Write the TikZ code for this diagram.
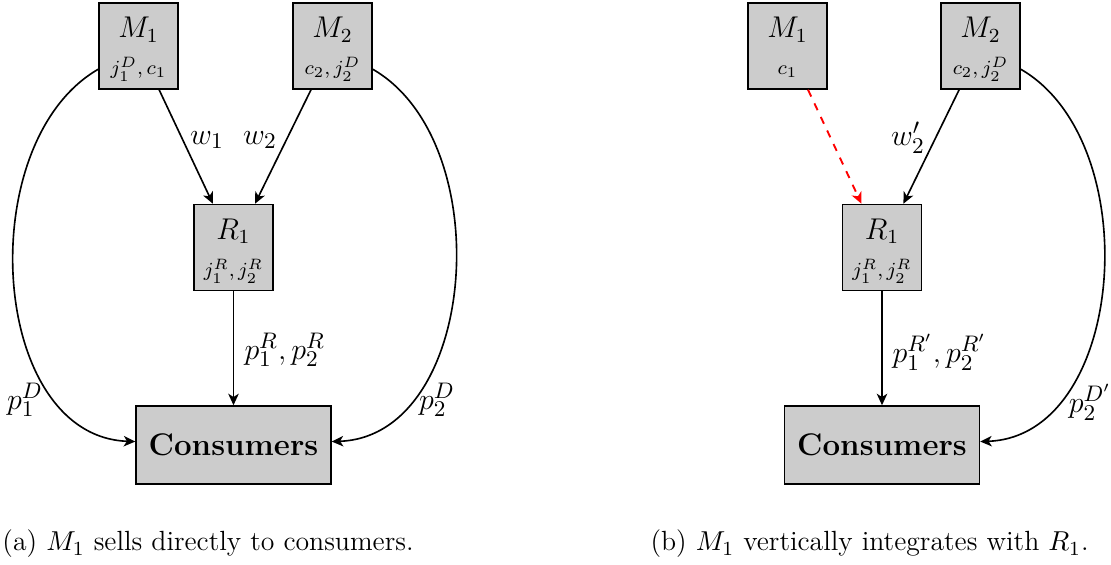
\documentclass[tikz,border=0pt]{standalone}
\usetikzlibrary{arrows.meta,calc}
\begin{document}
\begin{tikzpicture}[x=0.4pt,y=0.4pt,
  box/.style={draw=black,line width=0.6pt,fill=black!20,inner sep=0pt,minimum width=31.6pt,minimum height=34.4pt},
  cbox/.style={draw=black,line width=0.6pt,fill=black!20,inner sep=0pt,minimum width=78pt,minimum height=31.2pt,font=\fontsize{12.5}{15}\selectfont\bfseries},
  ttl/.style={anchor=base,inner sep=0pt,font=\fontsize{12}{15}\selectfont},
  sub/.style={anchor=base,inner sep=0pt,font=\footnotesize},
  lbl/.style={inner sep=0pt,font=\fontsize{12.5}{15}\selectfont},
  captxt/.style={anchor=west,inner sep=0pt,font=\fontsize{11.1}{13.5}\selectfont},
  arr/.style={line width=0.65pt,-{Stealth[length=4.6pt,width=4.2pt,inset=1.3pt]}},
  redarr/.style={line width=0.75pt,red,dashed,-{Stealth[length=4.6pt,width=4.2pt,inset=1.3pt]}}
]
\useasboundingbox (0,0) rectangle (1111,-565);

% ---------- (a) ----------
\node[box] (M1) at (138.5,-46) {};
\node[box] (M2) at (332.5,-46) {};
\node[box] (R1) at (233.5,-247.5) {};
\node[cbox] (C) at (233.5,-445) {Consumers};
\node[ttl] (M1t) at ($(M1)+(0,8)$) {$M_1$};
\node[sub] (M1s) at ($(M1)+(0,-29)$) {$j_1^D,c_1$};
\node[ttl] (M2t) at ($(M2)+(0,8)$) {$M_2$};
\node[sub] (M2s) at ($(M2)+(0,-29)$) {$c_2,j_2^D$};
\node[ttl] (R1t) at ($(R1)+(0,8)$) {$R_1$};
\node[sub] (R1s) at ($(R1)+(0,-29)$) {$j_1^R,j_2^R$};

\draw[arr] (M1) -- (R1);
\draw[arr] (M2) -- (R1);
\draw[arr] (R1) -- (C);
\draw[arr] (M1) to[out=210,in=178,looseness=1.0] (C);
\draw[arr] (M2) to[out=-30,in=2,looseness=1.0] (C);

\node[lbl] (w1) at (207,-140) {$w_1$};
\node[lbl] (w2) at (260,-140) {$w_2$};
\node[lbl,anchor=west] (pR) at (244,-350) {$p_1^R,p_2^R$};
\node[lbl] (p1D) at (25,-400) {$p_1^D$};
\node[lbl] (p2D) at (437,-400) {$p_2^D$};

% ---------- (b) ----------
\node[box] (M1r) at (787.5,-46) {};
\node[box] (M2r) at (980.5,-46) {};
\node[box] (R1r) at (882,-247.5) {};
\node[cbox] (Cr) at (882,-445) {Consumers};
\node[ttl] (M1rt) at ($(M1r)+(0,8)$) {$M_1$};
\node[sub] (M1rs) at ($(M1r)+(0,-29)$) {$c_1$};
\node[ttl] (M2rt) at ($(M2r)+(0,8)$) {$M_2$};
\node[sub] (M2rs) at ($(M2r)+(0,-29)$) {$c_2,j_2^D$};
\node[ttl] (R1rt) at ($(R1r)+(0,8)$) {$R_1$};
\node[sub] (R1rs) at ($(R1r)+(0,-29)$) {$j_1^R,j_2^R$};

\draw[redarr] (M1r) -- (R1r);
\draw[arr] (M2r) -- (R1r);
\draw[arr] (R1r) -- (Cr);
\draw[arr] (M2r) to[out=-30,in=2,looseness=1.0] (Cr);

\node[lbl] (w2r) at (908,-138) {$w_2'$};
\node[lbl,anchor=west] (pRr) at (892,-352) {$p_1^{R'},p_2^{R'}$};
\node[lbl] (p2Dr) at (1090,-402) {$p_2^{D'}$};

% ---------- captions ----------
\node[captxt] (capa) at (2,-544) {(a) $M_1$ sells directly to consumers.};
\node[captxt] (capb) at (650,-544) {(b) $M_1$ vertically integrates with $R_1$.};
\end{tikzpicture}
\end{document}
